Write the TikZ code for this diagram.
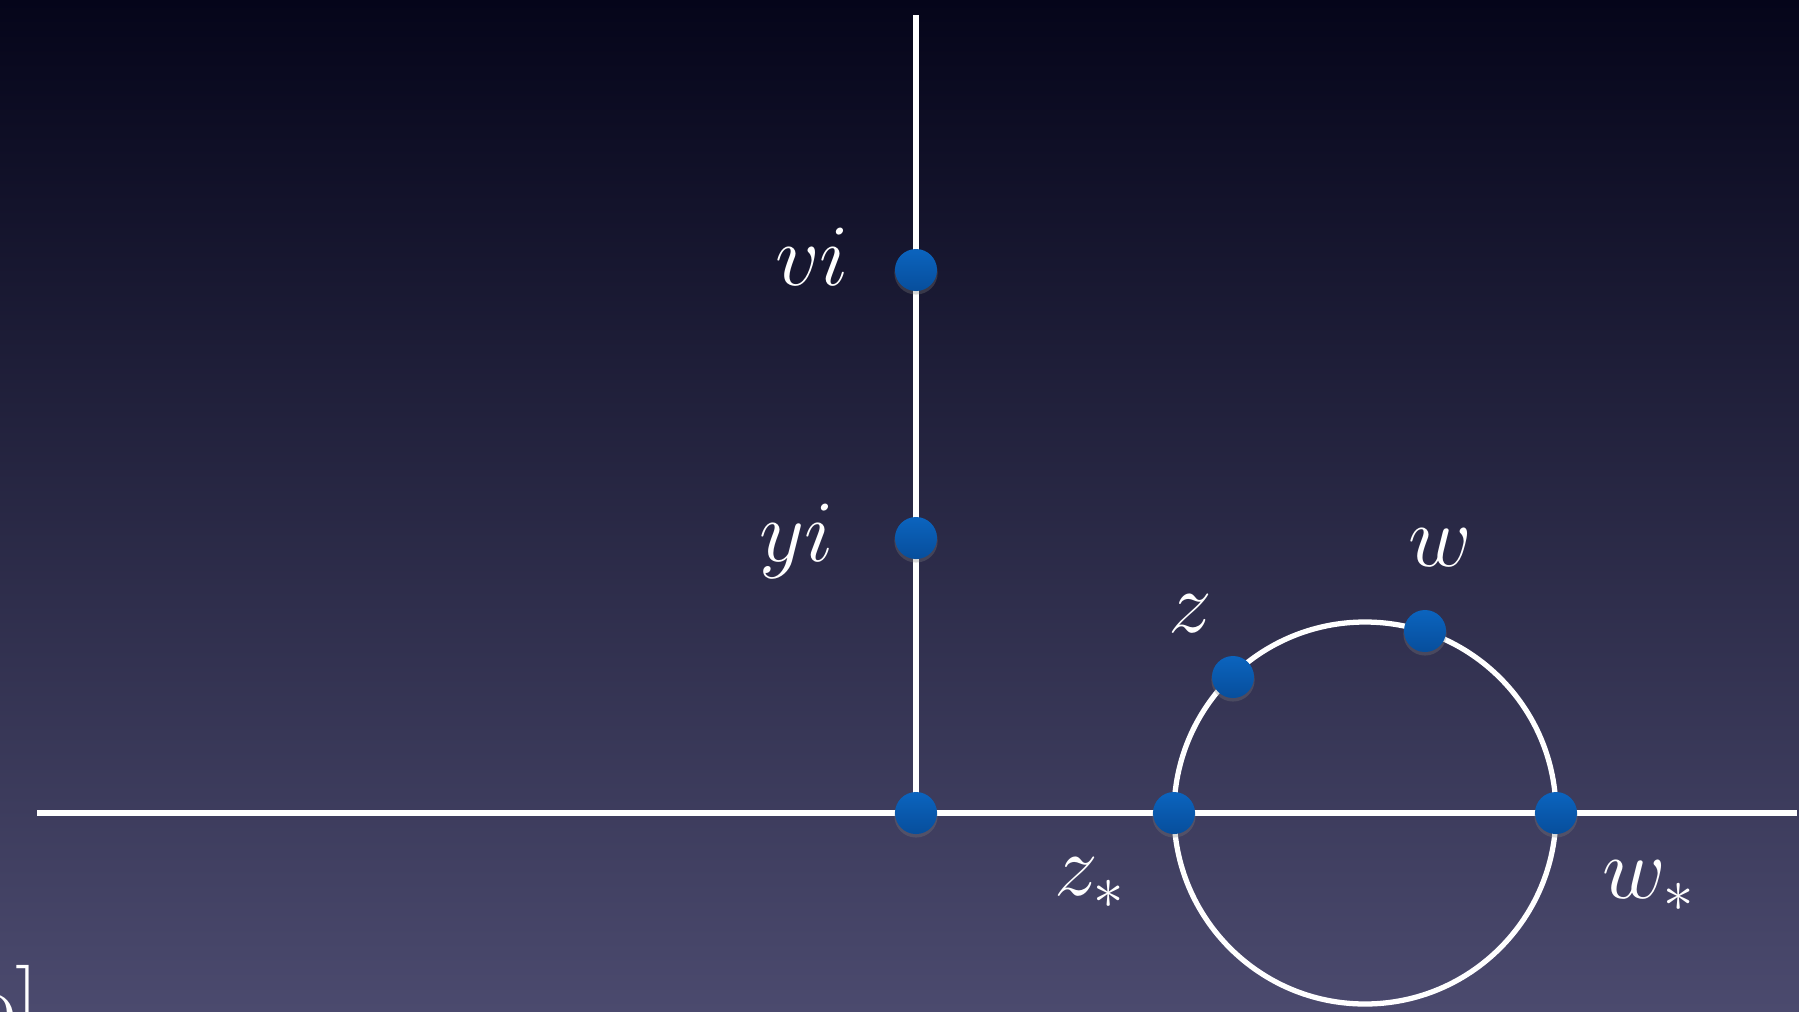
\documentclass[tikz,border=0pt]{standalone}
\usepackage{amsmath}
\usepackage{tikz}
\usetikzlibrary{shadows}
\definecolor{bgtop}{HTML}{05051A}
\definecolor{bgmid}{HTML}{20203F}
\definecolor{bgbot}{HTML}{4B4A6E}
\definecolor{dottop}{HTML}{0B64BE}
\definecolor{dotbot}{HTML}{074E9C}

\begin{document}
\begin{tikzpicture}[x=.01cm,y=-.01cm,
  axis/.style={white,line width=1.5pt},
  pt/.style={circle,inner sep=0pt,minimum size=.42cm,top color=dottop,bottom color=dotbot,
    drop shadow={opacity=.3,shadow xshift=0pt,shadow yshift=-.8pt,shadow scale=1.03}},
  lbl/.style={text=white,font=\fontsize{27}{32}\selectfont}]
\shade[top color=bgtop,middle color=bgmid,bottom color=bgbot] (0,0) rectangle (1799,1011);
\useasboundingbox (0,0) rectangle (1799,1011);
\coordinate (xl) at (37,813);
\coordinate (xr) at (1797,813);
\coordinate (yt) at (916,15);
\coordinate (O) at (916,813);
\coordinate (c) at (1365,813);
\draw[axis] (xl)--(xr);
\draw[axis] (O)--(yt);
\draw[axis] (c) circle[radius=191];
\node[pt] (o) at (O) {};
\node[pt] (yi) at (916,538) {};
\node[pt] (vi) at (916,270) {};
\node[pt] (zs) at (1174,813) {};
\node[pt] (ws) at (1556,813) {};
\node[pt] (z) at (1233,677) {};
\node[pt] (w) at (1425,631) {};
\node[lbl] (lvi) at (812,257) {\(vi\)};
\node[lbl] (lyi) at (797,541) {\(yi\)};
\node[lbl] (lz) at (1190,614) {\(z\)};
\node[lbl] (lw) at (1440,548) {\(w\)};
\node[lbl] (lzs) at (1090,883) {\(z_*\)};
\node[lbl] (lws) at (1649,886) {\(w_*\)};
\node[lbl,anchor=base east] (frag) at (52,1036) {o]};
\end{tikzpicture}
\end{document}
